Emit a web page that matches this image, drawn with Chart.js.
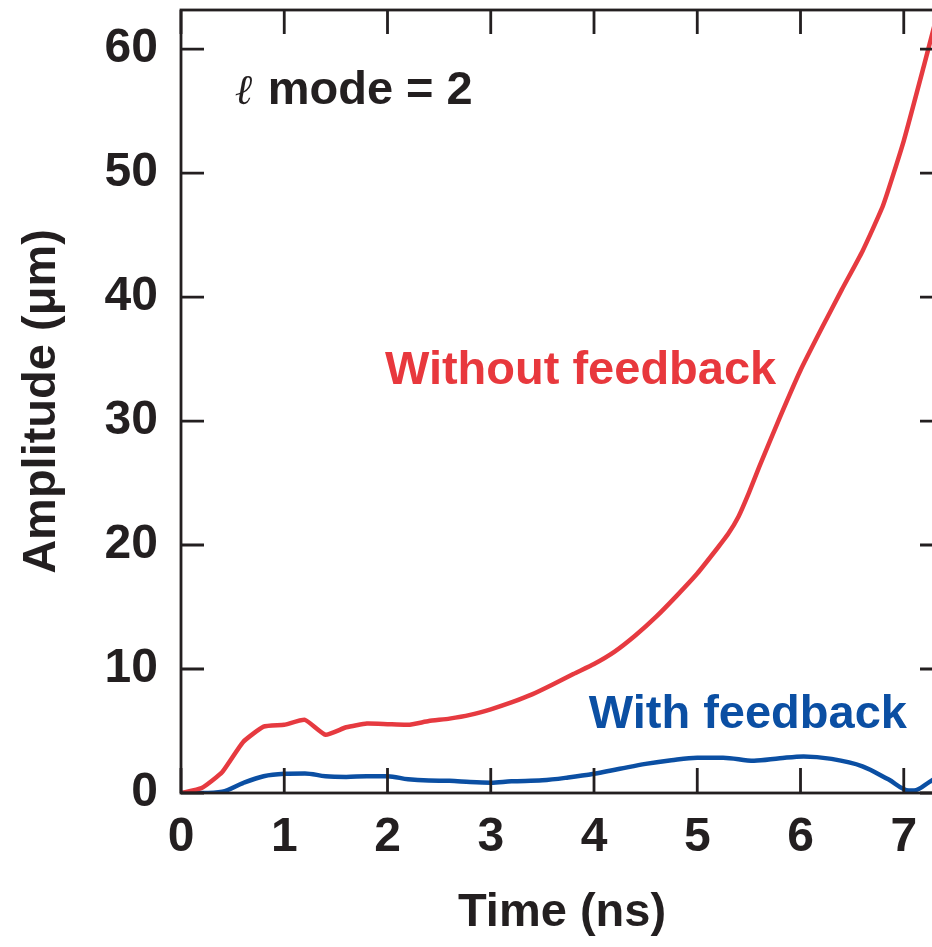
<!DOCTYPE html>
<html>
<head>
<meta charset="utf-8">
<script src="https://cdn.jsdelivr.net/npm/chart.js@4/dist/chart.umd.min.js"></script>
<style>
  html, body { margin: 0; padding: 0; background: #fff; overflow: hidden; }
  #wrap { width: 932px; height: 947px; overflow: hidden; position: relative; }
  canvas { display: block; }
</style>
</head>
<body>
<div id="wrap"><canvas id="c" width="950" height="947"></canvas></div>
<script>
// ---- Data ----
const redTime = [0, 0.2, 0.4, 0.6, 0.8, 1.0, 1.2, 1.4, 1.6, 1.8, 2.0, 2.2, 2.4, 2.6, 2.8, 3.0, 3.2, 3.4, 3.6, 3.8, 4.0, 4.2, 4.4, 4.6, 4.8, 5.0, 5.2, 5.3, 5.4, 5.5, 5.6, 5.8, 6.0, 6.2, 6.4, 6.6, 6.8, 7.0, 7.2, 7.3];
const redAmp  = [0, 0.4, 1.7, 4.1, 5.35, 5.5, 5.9, 4.7, 5.3, 5.6, 5.55, 5.5, 5.8, 6.0, 6.3, 6.75, 7.3, 7.95, 8.75, 9.6, 10.4, 11.4, 12.7, 14.2, 15.9, 17.7, 19.8, 20.9, 22.3, 24.2, 26.3, 30.3, 34.1, 37.4, 40.6, 43.7, 47.4, 52.6, 58.8, 62.0];
const blueTime = [0, 0.2, 0.4, 0.6, 0.8, 1.0, 1.2, 1.4, 1.6, 1.8, 2.0, 2.2, 2.4, 2.6, 2.8, 3.0, 3.2, 3.5, 3.75, 4.0, 4.25, 4.5, 4.75, 5.0, 5.25, 5.55, 5.8, 6.03, 6.3, 6.6, 6.85, 7.05, 7.1, 7.25, 7.35];
const blueAmp  = [0, 0, 0.1, 0.8, 1.35, 1.55, 1.58, 1.35, 1.3, 1.35, 1.35, 1.1, 1.0, 0.98, 0.88, 0.83, 0.95, 1.02, 1.25, 1.55, 1.95, 2.35, 2.65, 2.85, 2.85, 2.6, 2.8, 2.95, 2.75, 2.15, 1.1, 0.2, 0.2, 0.9, 1.4];
const xTicks = [0, 1, 2, 3, 4, 5, 6, 7];
const yTicks = [0, 10, 20, 30, 40, 50, 60];
const labels = [
  { text: 'Without feedback', x: 3.87, y: 33.0, color: '#e8383d', align: 'center' },
  { text: 'With feedback', x: 5.49, y: 5.24, color: '#0b4fa3', align: 'center' }
];

const INK = '#231f20';
const FONT = "'Liberation Sans', Arial, Helvetica, sans-serif";

const frameTicks = {
  id: 'frameTicks',
  afterDatasetsDraw(chart) {
    const { ctx, chartArea: a, scales: { x, y } } = chart;
    ctx.save();
    ctx.strokeStyle = INK;
    ctx.lineWidth = 2.8;
    ctx.lineCap = 'butt';
    ctx.strokeRect(a.left, a.top, a.right - a.left, a.bottom - a.top);
    ctx.beginPath();
    xTicks.forEach(v => {
      const px = x.getPixelForValue(v);
      ctx.moveTo(px, a.bottom); ctx.lineTo(px, a.bottom - 25);
      ctx.moveTo(px, a.top); ctx.lineTo(px, a.top + 24);
    });
    yTicks.forEach(v => {
      const py = y.getPixelForValue(v);
      ctx.moveTo(a.left, py); ctx.lineTo(a.left + 23, py);
      ctx.moveTo(a.right, py); ctx.lineTo(a.right - 23, py);
    });
    ctx.stroke();

    // annotations
    ctx.textBaseline = 'alphabetic';
    ctx.font = `bold 47px ${FONT}`;
    labels.forEach(l => {
      ctx.fillStyle = l.color;
      ctx.textAlign = l.align;
      ctx.fillText(l.text, x.getPixelForValue(l.x), y.getPixelForValue(l.y));
    });
    // "ℓ mode = 2"
    const lx = x.getPixelForValue(0.52), ly = y.getPixelForValue(55.6);
    ctx.textAlign = 'left';
    ctx.fillStyle = INK;
    ctx.font = `italic 42px 'DejaVu Serif', 'Liberation Serif', serif`;
    ctx.fillText('\u2113', lx, ly);
    ctx.font = `bold 47px ${FONT}`;
    ctx.fillText('mode = 2', lx + 33, ly);
    ctx.restore();
  }
};

new Chart(document.getElementById('c'), {
  type: 'line',
  data: {
    datasets: [
      {
        label: 'Without feedback',
        data: redTime.map((t, i) => ({ x: t, y: redAmp[i] })),
        borderColor: '#e63a40',
        borderWidth: 4.5,
        pointRadius: 0,
        tension: 0.15,
        fill: false
      },
      {
        label: 'With feedback',
        data: blueTime.map((t, i) => ({ x: t, y: blueAmp[i] })),
        borderColor: '#0b4fa3',
        borderWidth: 4.5,
        pointRadius: 0,
        cubicInterpolationMode: 'monotone',
        fill: false
      }
    ]
  },
  options: {
    responsive: false,
    animation: false,
    devicePixelRatio: 1,
    layout: { autoPadding: false, padding: { left: 0, right: 7, top: 10, bottom: 0 } },
    plugins: { legend: { display: false }, tooltip: { enabled: false } },
    scales: {
      x: {
        type: 'linear',
        min: 0,
        max: 7.38,
        afterBuildTicks: s => { s.ticks = xTicks.map(v => ({ value: v })); },
        afterFit: s => { s.height = 154; s.paddingLeft = 0; s.paddingRight = 0; },
        grid: { display: false, drawTicks: false },
        border: { display: false },
        ticks: {
          color: INK,
          padding: 16,
          maxRotation: 0,
          font: { family: FONT, size: 48, weight: 'bold' },
          callback: v => String(v)
        },
        title: {
          display: true,
          text: 'Time (ns)',
          color: INK,
          padding: { top: 0, bottom: 6 },
          font: { family: FONT, size: 47, weight: 'bold' }
        }
      },
      y: {
        type: 'linear',
        min: 0,
        max: 63.15,
        afterBuildTicks: s => { s.ticks = yTicks.map(v => ({ value: v })); },
        afterFit: s => { s.width = 181; s.paddingTop = 0; s.paddingBottom = 0; },
        grid: { display: false, drawTicks: false },
        border: { display: false },
        ticks: {
          color: INK,
          padding: 23,
          font: { family: FONT, size: 48, weight: 'bold' },
          callback: v => String(v)
        },
        title: {
          display: true,
          text: 'Amplitude (\u03bcm)',
          color: INK,
          padding: { top: 14, bottom: 0 },
          font: { family: FONT, size: 47, weight: 'bold' }
        }
      }
    }
  },
  plugins: [frameTicks]
});
</script>
</body>
</html>
